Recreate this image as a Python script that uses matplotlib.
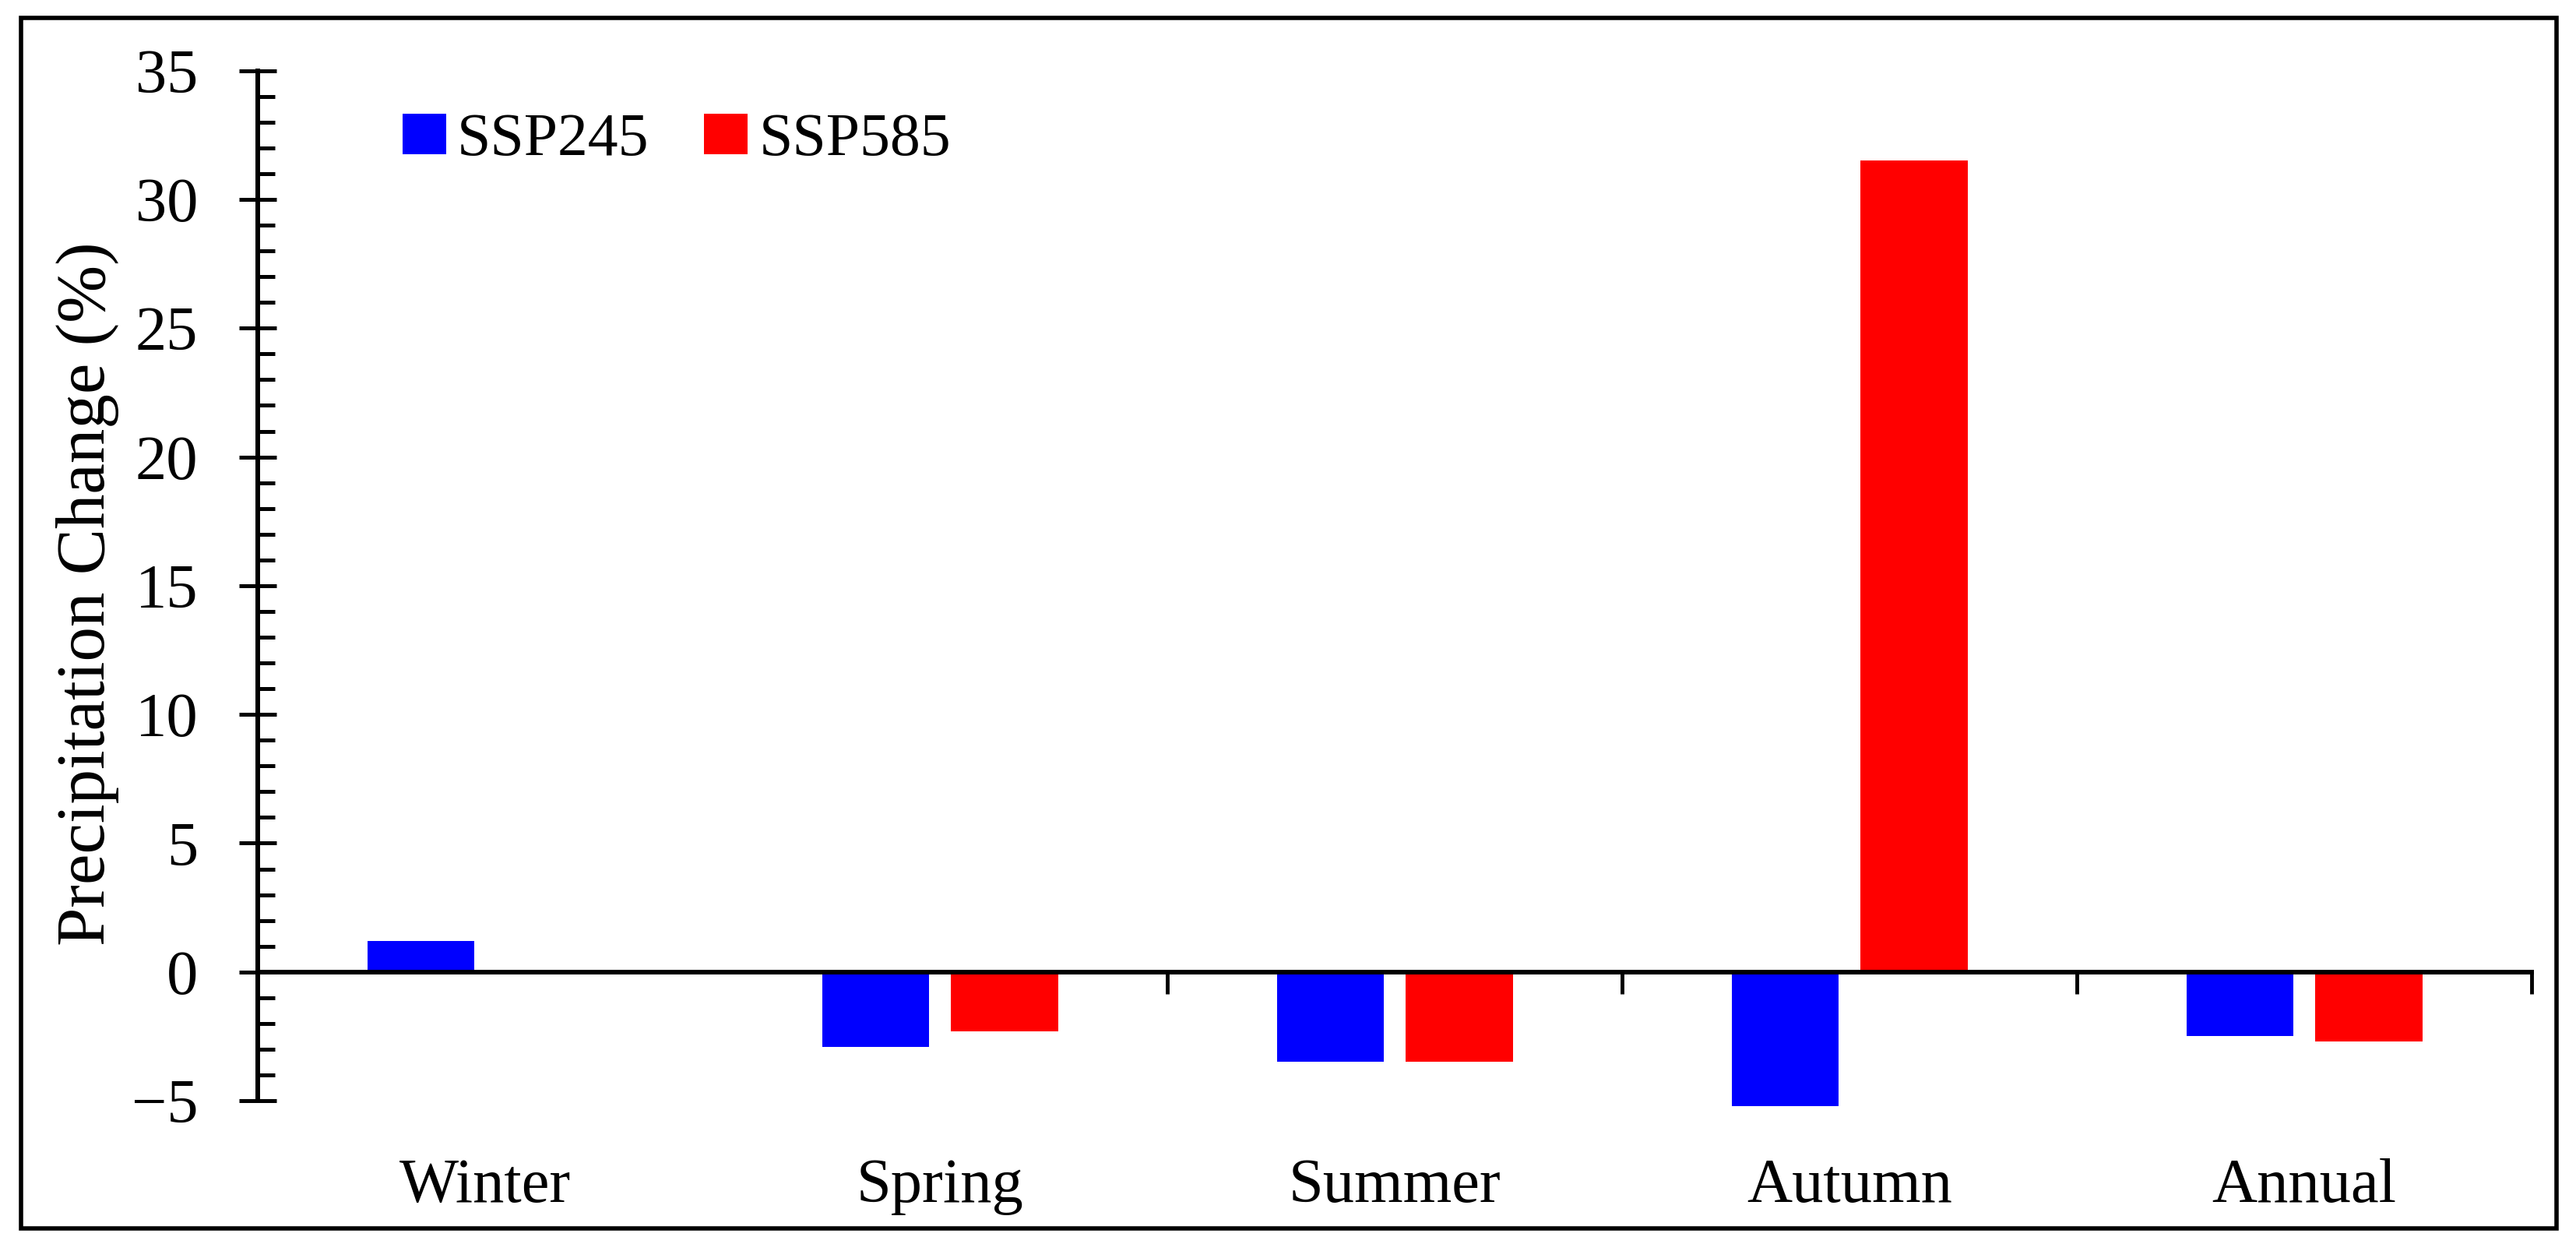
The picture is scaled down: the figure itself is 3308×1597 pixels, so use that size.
import matplotlib
matplotlib.use("Agg")
from matplotlib import pyplot as plt
from matplotlib.patches import Rectangle
from matplotlib.ticker import MultipleLocator
import numpy as np

seasons = ["Winter", "Spring", "Summer", "Autumn", "Annual"]
ssp245 = [1.2, -2.9, -3.5, -5.2, -2.5]
ssp585 = [0.0, -2.3, -3.5, 31.5, -2.7]
scenario_names = ["SSP245", "SSP585"]
scenario_colors = ["#0000FF", "#FF0000"]

plt.rcParams["font.family"] = ["Liberation Serif", "DejaVu Serif"]
plt.rcParams["axes.unicode_minus"] = True

fontsize = 58
bar_w = 0.235
offset = 0.142


def main():
    fig = plt.figure(figsize=(33.08, 15.97), dpi=100)
    ax = fig.add_axes([0.1001, 0.1152, 0.8827, 0.828])

    x = np.arange(len(seasons))
    for vals, off, name, color in zip(
        [ssp245, ssp585], [-offset, offset], scenario_names, scenario_colors
    ):
        ax.bar(x + off, vals, bar_w, color=color, label=name,
               linewidth=0, clip_on=False, zorder=1)

    ax.set_xlim(-0.5, len(seasons) - 0.5)
    ax.set_ylim(-5, 35)

    # spines: y-axis at left, x-axis running along zero
    for side in ["top", "right"]:
        ax.spines[side].set_visible(False)
    ax.spines["bottom"].set_position(("data", 0))
    ax.spines["bottom"].set_linewidth(4.3)
    ax.spines["left"].set_linewidth(4.3)

    ax.yaxis.set_major_locator(MultipleLocator(5))
    ax.yaxis.set_minor_locator(MultipleLocator(1))
    ax.tick_params(axis="y", which="major", direction="inout", length=34.6,
                   width=3.6, pad=38, labelsize=fontsize)
    ax.tick_params(axis="y", which="minor", direction="in", length=16,
                   width=3.6)

    ax.set_xticks(x[1:] + 0.5)
    ax.tick_params(axis="x", which="major", direction="out", length=20,
                   width=3.5, labelbottom=False)

    for i, name in enumerate(seasons):
        ax.text(i, -0.0983, name, transform=ax.get_xaxis_transform(),
                ha="center", va="baseline", fontsize=fontsize)

    ax.set_ylabel("Precipitation Change (%)", fontsize=64)
    ax.yaxis.set_label_coords(-0.061, 0.492)

    ax.legend(
        loc="center left",
        bbox_to_anchor=(0.0637, 0.932),
        ncol=2,
        frameon=False,
        fontsize=56,
        handlelength=0.72,
        handleheight=0.64,
        handletextpad=0.18,
        columnspacing=0.91,
        borderpad=0,
        borderaxespad=0,
    )

    # outer frame around the figure
    fig.patches.append(Rectangle((0.00816, 0.01252), 0.98428, 0.97308,
                                 transform=fig.transFigure, fill=False,
                                 edgecolor="black", linewidth=4.0))

    fig.savefig("out.png", dpi=100)


if __name__ == "__main__":
    main()
